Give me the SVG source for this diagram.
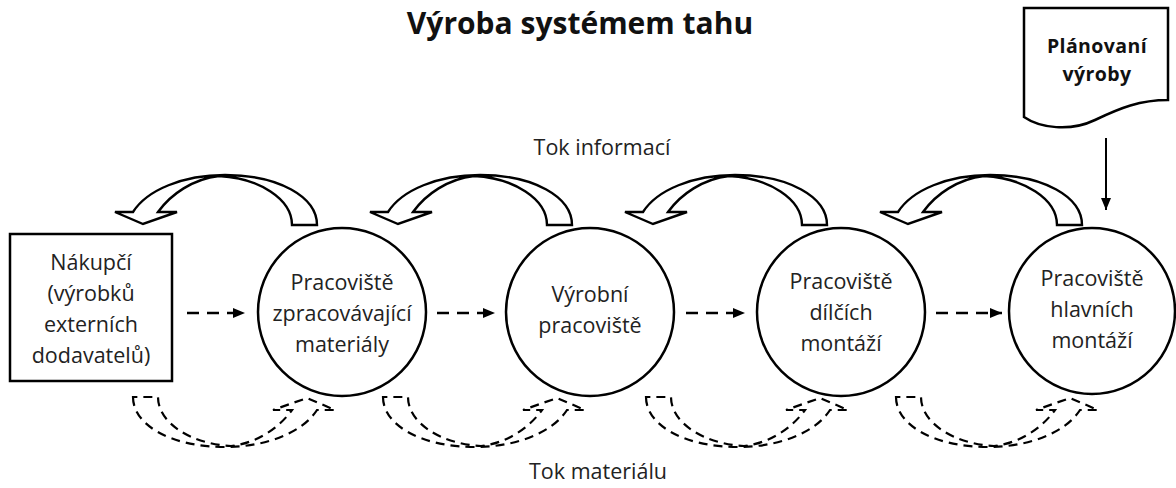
<svg xmlns="http://www.w3.org/2000/svg" xmlns:xlink="http://www.w3.org/1999/xlink" width="1176" height="488" viewBox="0 0 1176 488">
  <style>
    .txt { font-family: "Open Sans", "Liberation Sans", sans-serif; fill: #222; text-anchor: middle; }
    .lbl { font-size: 21.5px; }
    .title { font-size: 30px; font-weight: bold; fill: #111; }
    .doc { font-size: 19.5px; font-weight: bold; fill: #111; letter-spacing: 0.4px; }
    .shape { fill: #fff; stroke: #000; stroke-width: 2.5; }
    .info { fill: #fff; stroke: #000; stroke-width: 2.4; stroke-linejoin: miter; }
    .mat { fill: none; stroke: #000; stroke-width: 2.2; stroke-dasharray: 9 6; }
    .flow { stroke: #000; stroke-width: 2.5; stroke-dasharray: 12 8; fill: none; }
  </style>
  <defs>
    <!-- curved block arrow, tip at origin, head pointing down-left -->
    <path id="curved" d="M174,1 C174,-27 136,-49 82,-49 C40,-49 4,-34 -10,-12 L-28,-12 L0,0 L34,-12 L15,-12 C28,-30 50,-45 76,-48 C116,-46 149,-25 149,1 Z"/>
    <marker id="head" viewBox="0 0 12 10" refX="12" refY="5" markerWidth="12" markerHeight="10" markerUnits="userSpaceOnUse" orient="auto">
      <path d="M0,0 L12,5 L0,10 Z" fill="#000"/>
    </marker>
    <marker id="head2" viewBox="0 0 12 10" refX="12" refY="5" markerWidth="12" markerHeight="10" markerUnits="userSpaceOnUse" orient="auto">
      <path d="M0,0 L12,5 L0,10 Z" fill="#000"/>
    </marker>
  </defs>

  <rect width="1176" height="488" fill="#fff"/>

  <text class="txt title" x="580" y="34">Výroba systémem tahu</text>
  <text class="txt lbl" x="602" y="155">Tok informací</text>
  <text class="txt lbl" x="598" y="479">Tok materiálu</text>

  <!-- connectors -->
  <g id="connectors">
    <!-- information flow (backward) -->
    <use xlink:href="#curved" class="info" transform="translate(143,224)"/>
    <use xlink:href="#curved" class="info" transform="translate(398,224)"/>
    <use xlink:href="#curved" class="info" transform="translate(653,224)"/>
    <use xlink:href="#curved" class="info" transform="translate(908,224)"/>
    <!-- material flow (forward, dashed outline) -->
    <use xlink:href="#curved" class="mat" transform="translate(307,398) rotate(180)"/>
    <use xlink:href="#curved" class="mat" transform="translate(557,398) rotate(180)"/>
    <use xlink:href="#curved" class="mat" transform="translate(820,398) rotate(180)"/>
    <use xlink:href="#curved" class="mat" transform="translate(1070,398) rotate(180)"/>
    <!-- straight dashed links between stations -->
    <line class="flow" x1="187" y1="313" x2="245" y2="313" marker-end="url(#head)"/>
    <line class="flow" x1="437" y1="313" x2="495" y2="313" marker-end="url(#head)"/>
    <line class="flow" x1="686" y1="313" x2="745" y2="313" marker-end="url(#head)"/>
    <line class="flow" x1="936" y1="313" x2="1002" y2="313" marker-end="url(#head)"/>
    <!-- planning to final assembly -->
    <line x1="1106" y1="138" x2="1106" y2="210" stroke="#000" stroke-width="2" marker-end="url(#head2)"/>
  </g>

  <g id="planning">
    <path class="shape" stroke-width="2" d="M1024,8 H1168 V100 C1140,100 1120,108 1095,120 C1070,132 1040,128 1024,117 Z"/>
    <text class="txt doc" x="1097" y="53">Plánovaní</text>
    <text class="txt doc" x="1097" y="81">výroby</text>
  </g>

  <g id="purchaser">
    <rect class="shape" x="10" y="234" width="162" height="147"/>
    <text class="txt lbl" x="91" y="270">Nákupčí</text>
    <text class="txt lbl" x="91" y="301">(výrobků</text>
    <text class="txt lbl" x="91" y="332">externích</text>
    <text class="txt lbl" x="91" y="363">dodavatelů)</text>
  </g>

  <g id="material-processing">
    <circle class="shape" cx="342" cy="312" r="84"/>
    <text class="txt lbl" x="342" y="290">Pracoviště</text>
    <text class="txt lbl" x="342" y="321">zpracovávající</text>
    <text class="txt lbl" x="342" y="352">materiály</text>
  </g>

  <g id="production">
    <circle class="shape" cx="590" cy="312" r="84"/>
    <text class="txt lbl" x="590" y="302">Výrobní</text>
    <text class="txt lbl" x="590" y="333">pracoviště</text>
  </g>

  <g id="subassembly">
    <circle class="shape" cx="841" cy="312" r="84"/>
    <text class="txt lbl" x="841" y="289">Pracoviště</text>
    <text class="txt lbl" x="841" y="320">dílčích</text>
    <text class="txt lbl" x="841" y="351">montáží</text>
  </g>

  <g id="final-assembly">
    <circle class="shape" cx="1092" cy="311" r="83"/>
    <text class="txt lbl" x="1092" y="286">Pracoviště</text>
    <text class="txt lbl" x="1092" y="317">hlavních</text>
    <text class="txt lbl" x="1092" y="348">montáží</text>
  </g>
</svg>
